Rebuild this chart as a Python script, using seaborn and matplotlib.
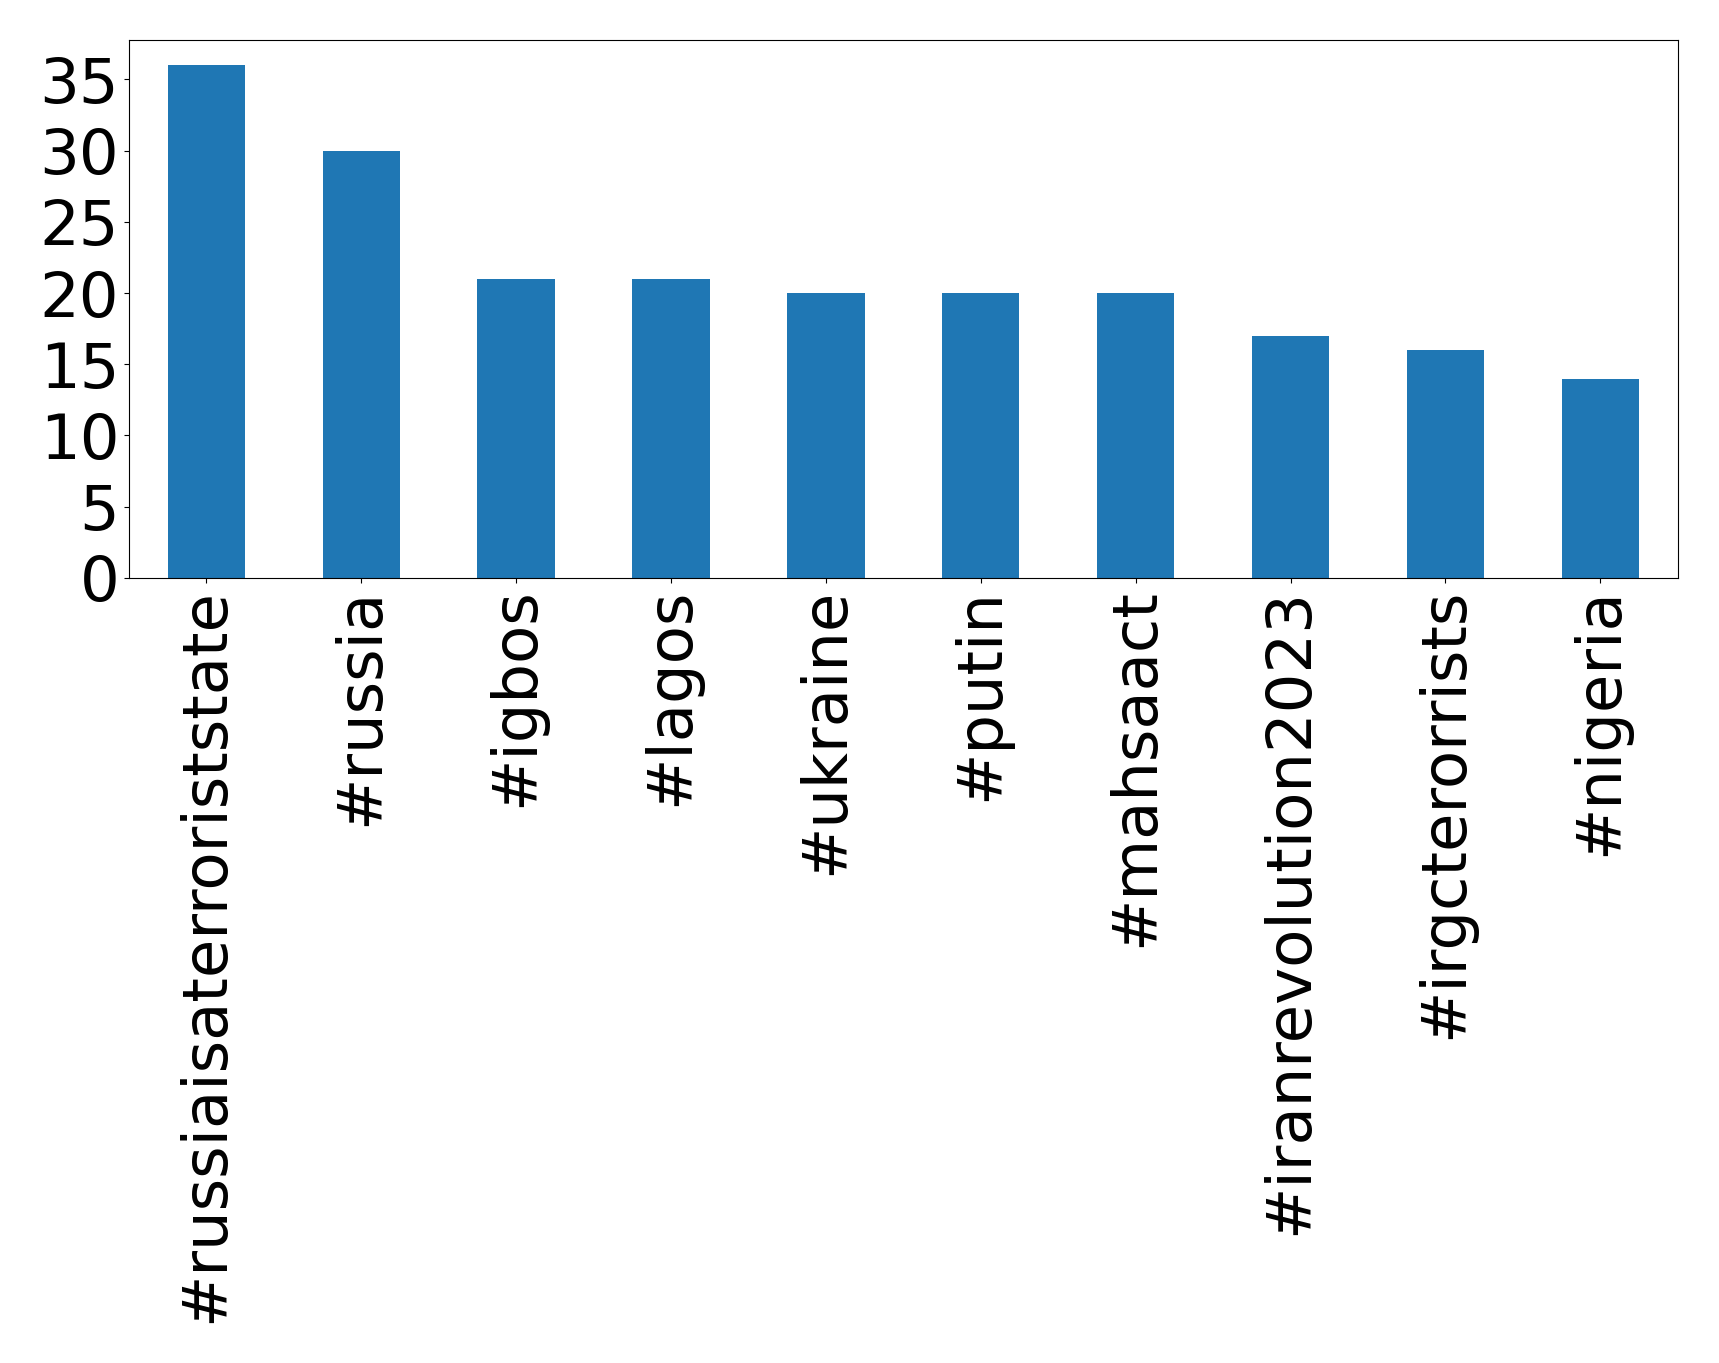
import matplotlib
matplotlib.use("Agg")
import matplotlib.pyplot as plt
from matplotlib.ticker import MultipleLocator
import seaborn as sns
import pandas as pd

hashtags = ['#russiaisaterroriststate', '#russia', '#igbos', '#lagos', '#ukraine',
            '#putin', '#mahsaact', '#iranrevolution2023', '#irgcterorrists', '#nigeria']
counts = [36, 30, 21, 21, 20, 20, 20, 17, 16, 14]

df = pd.DataFrame({'hashtag': hashtags, 'count': counts})

fig, ax = plt.subplots(figsize=(17.19, 13.63), dpi=100)
sns.barplot(data=df, x='hashtag', y='count', color='#1f77b4', saturation=1,
            width=0.5, ax=ax)
ax.set_xlim(-0.5, len(hashtags) - 0.5)
ax.set_ylim(0, max(counts) * 1.05)
ax.yaxis.set_major_locator(MultipleLocator(5))
ax.set_xlabel('')
ax.set_ylabel('')
ax.tick_params(axis='both', labelsize=45)
ax.tick_params(axis='x', labelrotation=90)
for s in ax.spines.values():
    s.set_visible(True)
    s.set_color('black')

plt.subplots_adjust(left=0.075, right=0.976, top=0.971, bottom=0.576)
plt.savefig('out.png', dpi=100)
plt.close()
